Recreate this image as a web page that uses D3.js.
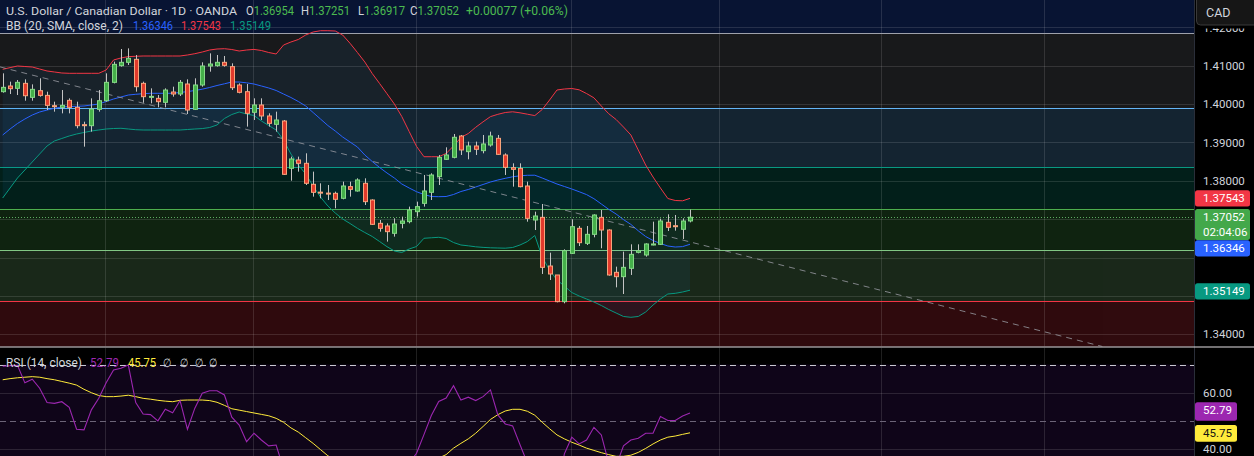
<!DOCTYPE html>
<html><head><meta charset="utf-8">
<script src="https://cdn.jsdelivr.net/npm/d3@7"></script>
<style>
html,body{margin:0;padding:0;background:#000;overflow:hidden;}
svg{display:block;}
text{font-family:Roboto,"Liberation Sans",sans-serif;}
</style></head><body>
<svg id="c" width="1254" height="456"></svg>
<script>
// ---------------- DATA ----------------
const opens=[1.40323,1.40471,1.40410,1.40540,1.40175,1.40349,1.40227,1.39958,1.39915,1.40097,
1.39915,1.39463,1.39437,1.39863,1.40088,1.40566,1.41001,1.41088,1.41166,1.40540,
1.40184,1.40149,1.40045,1.40314,1.40262,1.40523,1.39863,1.40497,1.40992,1.41001,
1.41088,1.40975,1.40497,1.40323,1.39785,1.39976,1.39690,1.39472,1.39559,1.38326,
1.38543,1.38456,1.37909,1.37705,1.37680,1.37674,1.37544,1.37848,1.37735,1.37935,
1.37500,1.36892,1.36823,1.36632,1.36892,1.36936,1.37196,1.37413,1.37700,1.38109,
1.38560,1.38612,1.39168,1.38760,1.38908,1.38786,1.38933,1.39107,1.38673,1.38343,
1.38325,1.37865,1.36979,1.37048,1.35780,1.35546,1.34851,1.36110,1.36762,1.36371,
1.36605,1.37048,1.36718,1.35615,1.35502,1.35719,1.36136,1.36067,1.36327,1.36345,
1.36918,1.36830,1.36736,1.36954];
const highs=[1.40801,1.40584,1.40627,1.40645,1.40514,1.40671,1.40323,1.40062,1.40366,1.40149,
1.40062,1.39541,1.40149,1.40366,1.40801,1.41105,1.41435,1.41452,1.41279,1.40584,
1.40410,1.40236,1.40410,1.40453,1.40627,1.40645,1.40671,1.41088,1.41322,1.41279,
1.41253,1.41062,1.40540,1.40523,1.40150,1.40150,1.39759,1.39802,1.39585,1.38630,
1.38630,1.38717,1.38239,1.37935,1.37891,1.37718,1.37978,1.37978,1.38065,1.38065,
1.37518,1.36979,1.36892,1.37023,1.37066,1.37327,1.37457,1.38152,1.38196,1.38673,
1.38873,1.39220,1.39194,1.39021,1.39021,1.39194,1.39281,1.39194,1.38716,1.38456,
1.38456,1.37978,1.37196,1.37396,1.36127,1.35546,1.36214,1.36996,1.36823,1.36823,
1.37127,1.37240,1.36736,1.35763,1.36154,1.36345,1.36345,1.36371,1.36935,1.37014,
1.37127,1.37109,1.37022,1.37251];
const lows=[1.40297,1.40262,1.40236,1.40088,1.40088,1.40193,1.39845,1.39802,1.39758,1.39758,
1.39368,1.38890,1.39281,1.39802,1.40062,1.40540,1.40975,1.41018,1.40323,1.40036,
1.40019,1.39915,1.39915,1.40193,1.40210,1.39741,1.39845,1.40453,1.40844,1.40975,
1.40975,1.40366,1.40280,1.39412,1.39585,1.39585,1.39412,1.39281,1.38152,1.38004,
1.38239,1.37891,1.37587,1.37544,1.37500,1.37283,1.37518,1.37587,1.37718,1.37370,
1.36849,1.36675,1.36415,1.36545,1.36762,1.36892,1.37066,1.37327,1.37500,1.37891,
1.38543,1.38586,1.38673,1.38560,1.38673,1.38716,1.38890,1.38673,1.38152,1.37848,
1.37830,1.36935,1.36718,1.35572,1.35415,1.34833,1.34807,1.36093,1.36301,1.36327,
1.36527,1.36241,1.35528,1.35224,1.35050,1.35546,1.36110,1.36023,1.36319,1.36327,
1.36692,1.36701,1.36484,1.36917];
const closes=[1.40436,1.40401,1.40566,1.40218,1.40384,1.40227,1.39967,1.39941,1.39967,1.39915,
1.39437,1.39446,1.39871,1.40088,1.40566,1.41035,1.41088,1.41192,1.40453,1.40193,
1.40201,1.40062,1.40366,1.40262,1.40566,1.39845,1.40497,1.40992,1.41044,1.41088,
1.41009,1.40427,1.40306,1.39759,1.39976,1.39690,1.39498,1.39585,1.38169,1.38569,
1.38456,1.37935,1.37700,1.37695,1.37670,1.37518,1.37865,1.37778,1.38022,1.37457,
1.36866,1.36762,1.36675,1.36875,1.36953,1.37240,1.37327,1.37735,1.38152,1.38612,
1.38673,1.39134,1.38804,1.38908,1.38821,1.38960,1.39168,1.38690,1.38351,1.38299,
1.37848,1.37022,1.37083,1.35745,1.35572,1.34851,1.36180,1.36805,1.36388,1.36605,
1.37109,1.36718,1.35546,1.35502,1.35745,1.36084,1.36180,1.36354,1.36354,1.36953,
1.36788,1.36815,1.36953,1.37052];
const bbUpper=[1.40906,1.40950,1.40992,1.40979,1.40966,1.40914,1.40862,1.40836,1.40810,1.40802,
1.40802,1.40802,1.40802,1.40802,1.40888,1.41149,1.41201,1.41237,1.41245,1.41253,
1.41253,1.41253,1.41253,1.41253,1.41253,1.41279,1.41313,1.41357,1.41409,1.41435,
1.41443,1.41422,1.41383,1.41409,1.41425,1.41396,1.41344,1.41305,1.41539,1.41618,
1.41683,1.41800,1.41878,1.41912,1.41912,1.41904,1.41800,1.41584,1.41344,1.41096,
1.40797,1.40536,1.40270,1.40002,1.39676,1.39285,1.38897,1.38628,1.38628,1.38628,
1.38712,1.38907,1.39129,1.39233,1.39395,1.39538,1.39673,1.39733,1.39780,1.39799,
1.39772,1.39736,1.39700,1.39858,1.40106,1.40367,1.40393,1.40406,1.40372,1.40275,
1.40163,1.39950,1.39749,1.39598,1.39402,1.39194,1.38803,1.38412,1.38099,1.37813,
1.37539,1.37487,1.37479,1.37543];
const bbBasis=[1.39194,1.39350,1.39494,1.39611,1.39715,1.39793,1.39845,1.39890,1.39924,1.39934,
1.39942,1.39950,1.39976,1.40002,1.40067,1.40132,1.40184,1.40236,1.40255,1.40270,
1.40281,1.40281,1.40281,1.40281,1.40302,1.40325,1.40354,1.40388,1.40432,1.40484,
1.40528,1.40575,1.40575,1.40554,1.40523,1.40471,1.40419,1.40354,1.40262,1.40171,
1.40067,1.39950,1.39780,1.39611,1.39441,1.39298,1.39142,1.39011,1.38881,1.38673,
1.38503,1.38347,1.38204,1.38073,1.37917,1.37813,1.37716,1.37643,1.37591,1.37586,
1.37591,1.37643,1.37721,1.37774,1.37839,1.37904,1.37969,1.38021,1.38065,1.38105,
1.38131,1.38144,1.38146,1.38073,1.37995,1.37917,1.37852,1.37787,1.37716,1.37641,
1.37534,1.37396,1.37257,1.37135,1.36989,1.36864,1.36697,1.36549,1.36444,1.36366,
1.36301,1.36275,1.36285,1.36346];
const bbLower=[1.37552,1.37813,1.38073,1.38282,1.38490,1.38699,1.38907,1.39038,1.39103,1.39168,
1.39220,1.39259,1.39298,1.39324,1.39350,1.39363,1.39369,1.39350,1.39332,1.39324,
1.39324,1.39324,1.39324,1.39324,1.39324,1.39337,1.39350,1.39361,1.39389,1.39455,
1.39624,1.39728,1.39793,1.39741,1.39702,1.39559,1.39441,1.39324,1.39064,1.38699,
1.38412,1.38178,1.37865,1.37578,1.37343,1.37161,1.37005,1.36887,1.36762,1.36653,
1.36549,1.36418,1.36283,1.36171,1.36132,1.36223,1.36288,1.36502,1.36515,1.36528,
1.36497,1.36392,1.36327,1.36306,1.36280,1.36265,1.36254,1.36249,1.36244,1.36262,
1.36327,1.36418,1.36575,1.36014,1.35675,1.35415,1.35259,1.35089,1.34998,1.34920,
1.34842,1.34750,1.34646,1.34555,1.34464,1.34443,1.34464,1.34581,1.34763,1.34920,
1.35050,1.35068,1.35102,1.35149];
const rsiValues=[69.4,69.6,69.7,63.5,64.8,61.6,56.5,56.2,56.8,54.8,
47.0,46.8,53.9,58.0,63.5,68.1,68.7,69.8,56.5,52.4,
52.2,50.0,54.1,52.9,57.2,47.0,54.5,59.8,60.7,60.7,
59.2,51.3,48.5,42.6,45.6,43.2,41.1,41.4,33.0,34.5,
34.0,30.0,28.0,28.0,28.0,27.0,30.0,29.5,32.0,29.0,
25.0,24.0,23.5,27.0,29.0,35.0,38.5,45.1,51.9,56.9,
58.1,62.5,57.4,58.4,57.2,58.6,61.0,52.1,48.9,48.2,
41.5,35.0,36.5,28.0,26.0,22.0,38.3,44.2,41.8,43.2,
47.7,45.0,35.0,34.0,41.1,43.2,43.8,45.6,45.6,51.5,
50.1,50.1,51.7,52.79];
const rsiMA=[64.6,65.0,65.3,65.5,65.7,65.5,65.0,64.6,64.0,63.4,
62.7,61.2,60.0,59.0,58.6,58.6,58.8,59.1,58.6,58.0,
57.7,57.3,57.0,56.8,57.3,57.4,57.4,57.4,57.2,56.6,
55.5,54.3,53.8,53.3,52.8,52.3,51.8,50.9,49.5,47.5,
46.0,44.0,42.0,39.8,37.6,36.0,34.5,33.5,32.5,31.5,
30.5,30.0,29.5,29.0,28.8,29.5,31.0,33.0,35.0,36.8,
38.0,40.3,42.0,43.6,45.6,48.0,50.5,52.2,53.5,54.1,
54.1,53.4,52.0,49.5,47.2,45.0,43.6,42.4,41.4,40.3,
39.5,38.7,38.0,37.4,37.4,37.8,38.8,40.2,41.8,43.2,
44.2,44.6,45.2,45.75];
const priceTicks=[1.34,1.35,1.36,1.37,1.38,1.39,1.40,1.41,1.42];
const rsiTicks=[40,60];
const rsiLevels=[70,50,30];
const monthStartIdx=[14,34,56,77,97,119,141];
const fibLow=1.32713, fibHigh=1.41843;
const fibRatios=[0,0.236,0.382,0.5,0.618,0.786,1,1.618];
const trendIdx=[-0.37,148.8];
const trendPrice=[1.40969,1.33682];
const lastTime="02:04:06";

// ---------------- LAYOUT ----------------
const W=1254,H=456, paneR=1194, priceBot=346.5, rsiTop=347.5;
const svg=d3.select("#c");
const x=d3.scaleLinear().domain([0,93]).range([2.7,690.0]);
const y=d3.scaleLinear().domain([1.34,1.41]).range([334.3,65.7]);
const yr=d3.scaleLinear().domain([40,60]).range([449,392.7]);
const fibPrice=r=>fibLow+(fibHigh-fibLow)*r;
const gridC="rgba(255,255,255,0.12)";

svg.append("rect").attr("width",W).attr("height",H).attr("fill","#000");
const defs=svg.append("defs");
defs.append("clipPath").attr("id","pc").append("rect").attr("x",0).attr("y",0).attr("width",paneR).attr("height",priceBot);
defs.append("clipPath").attr("id","rc").append("rect").attr("x",0).attr("y",rsiTop).attr("width",paneR).attr("height",H-rsiTop);

// ---- price pane ----
const pp=svg.append("g").attr("clip-path","url(#pc)");
const fibColors=["#787b86","#f23645","#81c784","#4caf50","#089981","#64b5f6","#787b86","#2962ff"];
for(let k=0;k<fibRatios.length-1;k++){
  const yTop=y(fibPrice(fibRatios[k+1])), yB=y(fibPrice(fibRatios[k]));
  pp.append("rect").attr("x",0).attr("width",paneR).attr("y",yTop).attr("height",yB-yTop)
    .attr("fill",fibColors[k+1]).attr("fill-opacity",0.2);
}
pp.selectAll(".hg").data(priceTicks).join("line").attr("x1",0).attr("x2",paneR)
  .attr("y1",d=>Math.round(y(d))+0.5).attr("y2",d=>Math.round(y(d))+0.5).attr("stroke",gridC);
pp.selectAll(".vg").data(monthStartIdx).join("line").attr("y1",0).attr("y2",priceBot)
  .attr("x1",d=>Math.round(x(d))-0.5).attr("x2",d=>Math.round(x(d))-0.5).attr("stroke",gridC);
fibRatios.forEach((r,k)=>{
  const yy=Math.round(y(fibPrice(r)))+0.5;
  pp.append("line").attr("x1",0).attr("x2",paneR).attr("y1",yy).attr("y2",yy)
    .attr("stroke",k===6?"#9ea1ab":fibColors[k]).attr("stroke-width",1.2);
});
const idx=d3.range(closes.length);
pp.append("path").datum(idx).attr("fill","rgba(33,150,243,0.07)")
  .attr("d",d3.area().x(i=>x(i)).y0(i=>y(bbLower[i])).y1(i=>y(bbUpper[i])));
const ln=arr=>d3.line().x(i=>x(i)).y(i=>y(arr[i]));
pp.append("path").datum(idx).attr("fill","none").attr("stroke","#f23645").attr("stroke-width",1).attr("d",ln(bbUpper));
pp.append("path").datum(idx).attr("fill","none").attr("stroke","#2962ff").attr("stroke-width",1).attr("d",ln(bbBasis));
pp.append("path").datum(idx).attr("fill","none").attr("stroke","#089981").attr("stroke-width",1).attr("d",ln(bbLower));
pp.append("line").attr("x1",x(trendIdx[0])).attr("y1",y(trendPrice[0])).attr("x2",x(trendIdx[1])).attr("y2",y(trendPrice[1]))
  .attr("stroke","#9a9ca4").attr("stroke-width",1).attr("stroke-dasharray","6,5").attr("opacity",0.8);
const lastY=Math.round(y(closes[closes.length-1]))+0.5;
pp.append("line").attr("x1",0).attr("x2",paneR).attr("y1",lastY).attr("y2",lastY)
  .attr("stroke","#66bb6a").attr("stroke-dasharray","1,2").attr("opacity",0.9);
const cg=pp.append("g");
idx.forEach(i=>{
  const o=opens[i],h=highs[i],l=lows[i],c=closes[i];
  const up=c>=o; const cx=Math.round(x(i));
  cg.append("line").attr("x1",cx+0.5).attr("x2",cx+0.5).attr("y1",y(h)).attr("y2",y(l)).attr("stroke","#c4c4c4");
  const yt=y(Math.max(o,c)), yb=y(Math.min(o,c));
  cg.append("rect").attr("x",cx-1.5).attr("width",4).attr("y",yt).attr("height",Math.max(1,yb-yt))
    .attr("fill",up?"#45b04a":"#e23a2c").attr("stroke",up?"#86d987":"#f8a47c").attr("stroke-width",1);
});

// header texts
function seg(g,str,xx,yb,w,col,fs){
  g.append("text").attr("x",xx).attr("y",yb).attr("fill",col).attr("font-size",fs||12)
   .attr("textLength",w).attr("lengthAdjust","spacingAndGlyphs").text(str);
}
function pair(g,label,val,xx,yb,w,c1,c2){
  const t=g.append("text").attr("x",xx).attr("y",yb).attr("font-size",12)
   .attr("textLength",w).attr("lengthAdjust","spacingAndGlyphs");
  t.append("tspan").attr("fill",c1).text(label);
  t.append("tspan").attr("fill",c2).text(val);
}
const hg=svg.append("g");
const tc="#d1d4dc", gc="#4cbb50";
const f5=d3.format(".5f");
seg(hg,"U.S. Dollar / Canadian Dollar · 1D · OANDA",6,14.5,231,tc,11.8);
pair(hg,"O",f5(opens[93]),246,14.5,48,tc,gc);
pair(hg,"H",f5(highs[93]),301,14.5,49,tc,gc);
pair(hg,"L",f5(lows[93]),358,14.5,47,tc,gc);
pair(hg,"C",f5(closes[93]),410,14.5,49,tc,gc);
seg(hg,"+0.00077 (+0.06%)",466,14.5,102,gc);
seg(hg,"BB (20, SMA, close, 2)",6,30,117,tc);
seg(hg,f5(bbBasis[93]),133,30,40,"#2962ff");
seg(hg,f5(bbUpper[93]),181,30,40,"#f23645");
seg(hg,f5(bbLower[93]),230,30,41,"#089981");

// ---- RSI pane ----
const rp=svg.append("g").attr("clip-path","url(#rc)");
rp.append("rect").attr("x",0).attr("width",paneR).attr("y",yr(70)).attr("height",yr(30)-yr(70)).attr("fill","#0f0519");
rp.selectAll(".rg").data(rsiTicks).join("line").attr("x1",0).attr("x2",paneR)
  .attr("y1",d=>Math.round(yr(d))+0.5).attr("y2",d=>Math.round(yr(d))+0.5).attr("stroke",gridC);
rp.selectAll(".rv").data(monthStartIdx).join("line").attr("y1",rsiTop).attr("y2",H)
  .attr("x1",d=>Math.round(x(d))-0.5).attr("x2",d=>Math.round(x(d))-0.5).attr("stroke",gridC);
rsiLevels.forEach(v=>{
  const yy=Math.round(yr(v))+0.5;
  rp.append("line").attr("x1",0).attr("x2",paneR).attr("y1",yy).attr("y2",yy)
    .attr("stroke",v===50?"#6c6478":"#c8c8d0").attr("stroke-dasharray","6,4").attr("stroke-width",1);
});
rp.append("path").datum(idx).attr("fill","none").attr("stroke","#ffeb3b").attr("stroke-width",1)
  .attr("d",d3.line().x(i=>x(i)).y(i=>yr(rsiMA[i])));
rp.append("path").datum(idx).attr("fill","none").attr("stroke","#9c27b0").attr("stroke-width",1.1)
  .attr("d",d3.line().x(i=>x(i)).y(i=>yr(rsiValues[i])));
const rh=svg.append("g");
seg(rh,"RSI (14, close)",6,367,76,tc);
seg(rh,d3.format(".2f")(rsiValues[93]),90,367,29,"#9c27b0");
seg(rh,d3.format(".2f")(rsiMA[93]),128,367,28,"#ffeb3b");
[163,180,195,209].forEach(xx=>seg(rh,"∅",xx,367,8,tc));

// ---- right axis ----
const ax=svg.append("g");
ax.append("rect").attr("x",paneR).attr("y",0).attr("width",W-paneR).attr("height",H).attr("fill","#000");
ax.append("line").attr("x1",paneR+0.5).attr("x2",paneR+0.5).attr("y1",0).attr("y2",H).attr("stroke","#2a2e39");
svg.append("line").attr("x1",0).attr("x2",W).attr("y1",347).attr("y2",347).attr("stroke","#e4e0e4").attr("stroke-width",1.2);

const gy=y(closes[93]);
const tags=[
  {c:y(bbUpper[93]),h:16.3},
  {c:gy+7.3,h:31},
  {c:Math.max(y(bbBasis[93]),gy-8.2+31+8.3),h:16.3},
  {c:y(bbLower[93])+1.2,h:16.3}
];
const freeTicks=priceTicks.filter(t=>tags.every(g=>Math.abs(y(t)-g.c)>g.h/2+6));
const pa=ax.append("g").attr("transform","translate(1203,0)")
  .call(d3.axisRight(y).tickValues(freeTicks).tickSize(0).tickPadding(0).tickFormat(f5));
const ra=ax.append("g").attr("transform","translate(1203,0)")
  .call(d3.axisRight(yr).tickValues(rsiTicks).tickSize(0).tickPadding(0).tickFormat(d3.format(".2f")));
[pa,ra].forEach(a=>{a.select(".domain").remove();
  a.selectAll("text").attr("fill","#d1d4dc").attr("font-size","11.5px").attr("font-family","Roboto,'Liberation Sans',sans-serif");});

function tag(yc,h,w,col,lines,txtCol){
  ax.append("rect").attr("x",1195).attr("y",yc-h/2).attr("width",w).attr("height",h).attr("rx",2.5).attr("fill",col);
  lines.forEach((s,k)=>ax.append("text").attr("x",1203).attr("y",yc-h/2+12+k*15).attr("fill",txtCol||"#fff")
    .attr("font-size","11.5px").text(s));
}
tag(tags[0].c,tags[0].h,55,"#f23645",[f5(bbUpper[93])]);
tag(tags[1].c,tags[1].h,55,"#43a84a",[f5(closes[93]),lastTime]);
tag(tags[2].c,tags[2].h,55,"#2962ff",[f5(bbBasis[93])]);
tag(tags[3].c,tags[3].h,55,"#089981",[f5(bbLower[93])]);
tag(yr(rsiValues[93])-1.5,18.5,42,"#9c27b0",[d3.format(".2f")(rsiValues[93])]);
tag(yr(rsiMA[93])+0.5,16.7,42,"#ffeb3b",[d3.format(".2f")(rsiMA[93])],"#131313");

ax.append("rect").attr("x",paneR+1).attr("y",0).attr("width",W-paneR-1).attr("height",28.5).attr("fill","#000");
ax.append("rect").attr("x",1196.5).attr("y",-6).attr("width",64).attr("height",31).attr("rx",4)
  .attr("fill","#161616").attr("stroke","#3a3a3a");
ax.append("text").attr("x",1206).attr("y",17).attr("fill","#d1d4dc").attr("font-size","12.5px").text("CAD");
</script>
</body></html>
